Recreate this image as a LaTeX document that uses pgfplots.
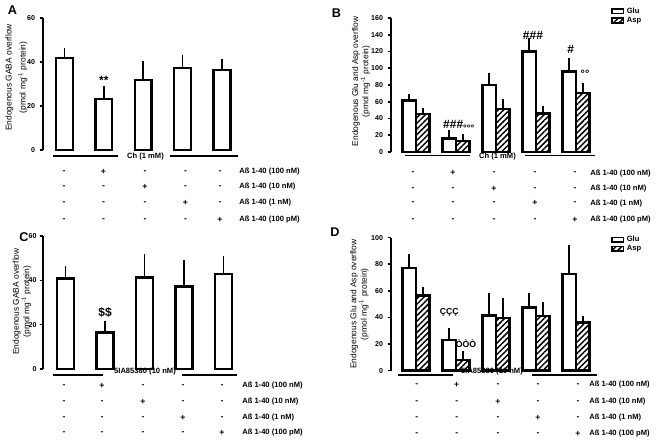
\documentclass[border=0pt]{standalone}
\usepackage{fontspec}
\setmainfont{Liberation Sans}
\usepackage{pgfplots}
\pgfplotsset{compat=1.18}
\usetikzlibrary{patterns.meta}

\newcommand\fb{\bfseries\fontsize{5.7}{7}\selectfont}
\newcommand\fs{\bfseries\fontsize{6.5}{7}\selectfont}
\newcommand\ftick{\bfseries\fontsize{5.3}{6}\selectfont}
\newcommand\fann{\bfseries\fontsize{9}{10}\selectfont}

\pgfplotsset{
  panel/.style={
    scale only axis,
    axis x line=none,
    axis y line=left,
    axis line style={-, line width=1.5pt},
    ymin=0,
    tick align=outside,
    major tick length=2.5pt,
    ytick style={line width=1.2pt, black},
    yticklabel style={font=\ftick, /pgf/number format/assume math mode=true},
    clip=false,
    legend style={draw=none, fill=none, font=\fb, anchor=north west,
      inner sep=0pt, row sep=-2.6pt, legend cell align=left},
  },
  glu/.style={draw=black, fill=white, line width=1.8pt,
    error bars/.cd, y dir=plus, y explicit,
    error bar style={line width=1.3pt},
    error mark options={line width=1.3pt, mark size=2.2pt}},
  asp/.style={draw=black, line width=1.8pt,
    pattern={Lines[angle=45,distance=3pt,line width=1.1pt]},
    error bars/.cd, y dir=plus, y explicit,
    error bar style={line width=1.3pt},
    error mark options={line width=1.3pt, mark size=2.2pt}},
}

\pgfplotstableread{
x y e
0 41.8 3.3
1 23.3 4.6
2 31.8 7.2
3 37.3 4.7
4 36.5 3.4
}\dataA
\pgfplotstableread{
x y e
0 61.3 4.7
1 16.3 6.7
2 80.0 10.7
3 119.8 12.7
4 95.9 13.1
}\dataBglu
\pgfplotstableread{
x y e
0 45.4 3.6
1 13.1 5.2
2 51.3 8.0
3 46.2 5.1
4 70.4 8.8
}\dataBasp
\pgfplotstableread{
x y e
0 40.9 4.1
1 16.5 3.9
2 41.2 9.2
3 37.3 10.4
4 42.9 6.7
}\dataC
\pgfplotstableread{
x y e
0 77.0 8.7
1 23.1 6.7
2 41.4 14.8
3 47.4 8.8
4 72.5 19.5
}\dataDglu
\pgfplotstableread{
x y e
0 56.4 4.3
1 8.0 4.6
2 39.4 13.0
3 41.1 8.3
4 36.1 2.5
}\dataDasp

\newcommand\signtab[3]{%
  \foreach \r [count=\ri] in {#2} {
    \foreach \c [count=\ci] in {#1} {
      \pgfmathtruncatemacro\pl{\ci==\ri+1 ? 1 : 0}
      \node[font=\fs, inner sep=0pt] at (\c,444-\r) {\ifnum\pl=1 +\else -\fi};
    }
    \node[font=\fb, anchor=west, inner sep=0pt] at (#3,444-\r) {Aß 1-40 (\ifcase\ri\or 100 nM\or 10 nM\or 1 nM\or 100 pM\fi)};
  }
}

\begin{document}
\begin{tikzpicture}[x=0.75pt,y=0.75pt]

% ---------------- Panel A
\begin{axis}[panel, at={(32.25pt,220.5pt)}, anchor=south west,
  width=147.75pt, height=99pt,
  xmin=-0.546, xmax=4.457, ymax=60, ytick={0,20,40,60},
  ylabel={Endogenous GABA overflow\\(pmol mg\textsuperscript{-1} protein)},
  ylabel style={font=\fontsize{6.3}{10.5}\selectfont, align=center, anchor=center,
    at={(axis description cs:-0.1345,0.55)}},
]
\addplot[ybar, bar width=12.5pt, bar shift=0pt, glu] table[x=x,y=y,y error=e] {\dataA};
\node[font=\fann] at (axis cs:1,31.5) {**};
\end{axis}

% ---------------- Panel B
\begin{axis}[panel, at={(293.25pt,219pt)}, anchor=south west,
  width=153.75pt, height=100.5pt,
  xmin=-0.625, xmax=4.5, ymax=160, ytick={0,20,...,160},
  ybar=0pt, bar width=10pt,
  every axis plot post/.append style={legend image code/.code={\draw[##1, line width=1.2pt] (0pt,-1.7pt) rectangle (8.5pt,1.7pt);}},
  ylabel={Endogenous Glu and Asp overflow\\(pmol mg\textsuperscript{-1} protein)},
  ylabel style={font=\fontsize{6.3}{6.6}\selectfont, align=center, anchor=center,
    at={(axis description cs:-0.146,0.526)}},
  legend style={at={(axis description cs:1.073,1.10)}},
]
\addplot[glu] table[x=x,y=y,y error=e] {\dataBglu};
\addplot[asp] table[x=x,y=y,y error=e] {\dataBasp};
\legend{Glu,Asp}
\node[font=\fann] at (axis cs:2.925,139) {\#\#\#};
\node[font=\fann] at (axis cs:3.87,122) {\#};
\node[font=\bfseries\fontsize{8}{9}\selectfont] at (axis cs:4.225,93.9) {°°};
\node[font=\fann] at (axis cs:1.07,31) {\#\#\#\raisebox{-1.9pt}{\fontsize{7}{8}\selectfont °°°}};
\end{axis}

% ---------------- Panel C
\begin{axis}[panel, at={(32.25pt,56.25pt)}, anchor=south west,
  width=147.75pt, height=99.75pt,
  xmin=-0.57, xmax=4.417, ymax=60, ytick={0,20,40,60},
  yticklabel style={xshift=1.2pt},
  ylabel={Endogenous GABA overflow\\(pmol mg\textsuperscript{-1} protein)},
  ylabel style={font=\fontsize{6.3}{6.6}\selectfont, align=center, anchor=center,
    at={(axis description cs:-0.107,0.507)}},
]
\addplot[ybar, bar width=12.5pt, bar shift=0pt, glu] table[x=x,y=y,y error=e] {\dataC};
\node[font=\fann] at (axis cs:1,25.5) {\$\$};
\end{axis}

% ---------------- Panel D
\begin{axis}[panel, at={(293.25pt,54.975pt)}, anchor=south west,
  width=153.75pt, height=99.75pt,
  xmin=-0.625, xmax=4.5, ymax=100, ytick={0,20,...,100},
  ybar=0pt, bar width=10pt,
  every axis plot post/.append style={legend image code/.code={\draw[##1, line width=1.2pt] (0pt,-1.7pt) rectangle (8.5pt,1.7pt);}},
  ylabel={Endogenous Glu and Asp overflow\\(pmol mg\textsuperscript{-1} protein)},
  ylabel style={font=\fontsize{6.3}{6.6}\selectfont, align=center, anchor=center,
    at={(axis description cs:-0.154,0.50)}},
  legend style={at={(axis description cs:1.073,1.035)}},
]
\addplot[glu] table[x=x,y=y,y error=e] {\dataDglu};
\addplot[asp] table[x=x,y=y,y error=e] {\dataDasp};
\legend{Glu,Asp}
\node[font=\bfseries\fontsize{6.5}{7}\selectfont] at (axis cs:0.83,43.9) {ÇÇÇ};
\node[font=\bfseries\fontsize{6.5}{7}\selectfont] at (axis cs:1.25,20.6) {ÒÒÒ};
\end{axis}

% ---------------- panel letters
\node[font=\bfseries\fontsize{9.5}{10}\selectfont] at (12.5,444-10) {A};
\node[font=\bfseries\fontsize{9.5}{10}\selectfont] at (336.5,444-13.5) {B};
\node[font=\bfseries\fontsize{9.5}{10}\selectfont] at (24,444-237.5) {C};
\node[font=\bfseries\fontsize{9.5}{10}\selectfont] at (335,444-232) {D};

% ---------------- treatment lines
\draw[line width=0.8pt] (53,444-156) -- (118,444-156) (170,444-156) -- (238,444-156);
\node[font=\fb] at (145.5,444-157) {Ch (1 mM)};
\draw[line width=0.8pt] (405,444-155.7) -- (470,444-155.7) (525,444-155.7) -- (595,444-155.7);
\node[font=\fb] at (497.5,444-157) {Ch (1 mM)};
\draw[line width=0.8pt] (53,444-375) -- (103,444-375) (182,444-375) -- (237,444-375);
\node[font=\fb] at (145,444-372) {5IA85380 (10 nM)};
\draw[line width=0.8pt] (398,444-375) -- (453,444-375) (532,444-375) -- (597,444-375);
\node[font=\fb] at (492,444-372) {5IA85380 (10 nM)};

% ---------------- sign tables
\signtab{64,103.5,145,185.5,220}{171.7,187,203,220}{239}
\signtab{413,453,494,535,575}{173.3,189,203.3,220}{590}
\signtab{64,102,143,183,222}{385.7,401.7,417.7,433}{242}
\signtab{416.7,456.7,498,538,578}{385,401.7,417.7,434}{589}

\pgfresetboundingbox
\useasboundingbox (0,0) rectangle (662,444);
\end{tikzpicture}
\end{document}
